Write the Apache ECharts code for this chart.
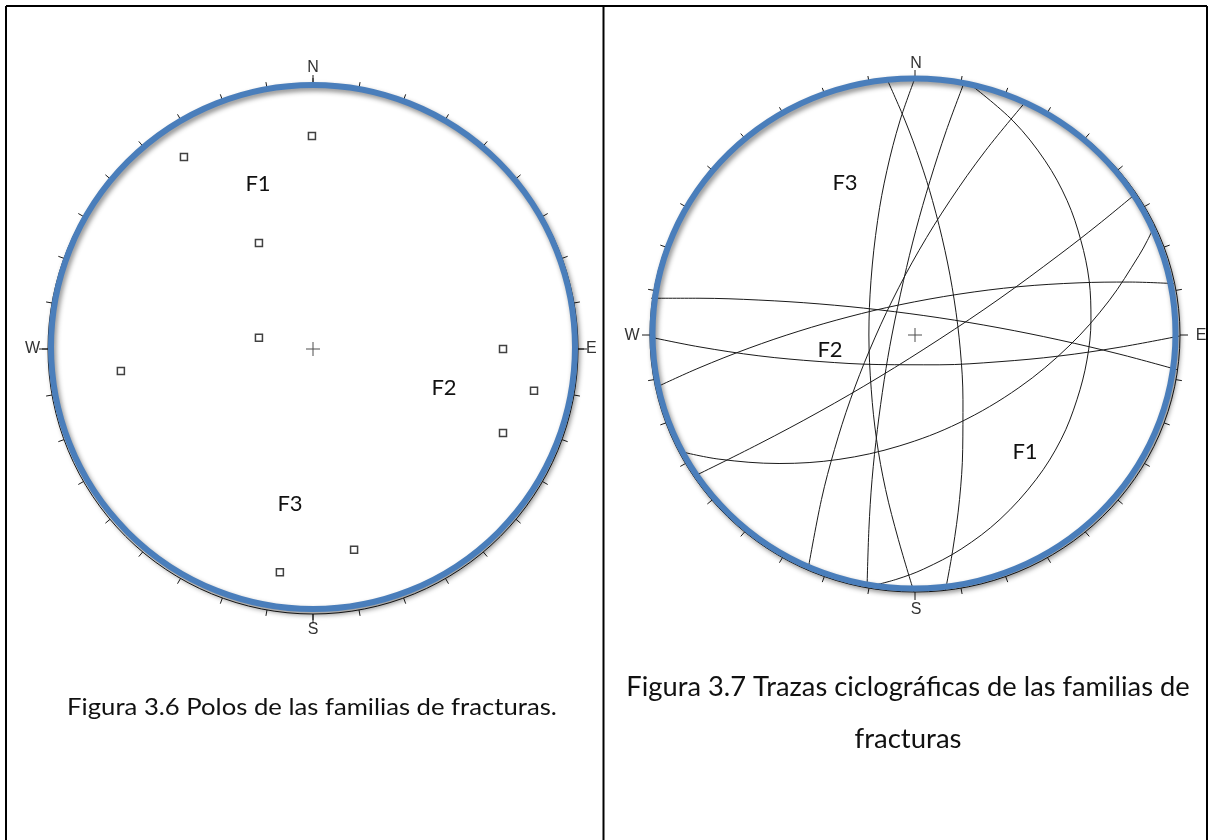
<!DOCTYPE html>
<html><head><meta charset="utf-8">
<script src="https://cdn.jsdelivr.net/npm/echarts@6/dist/echarts.min.js"></script>
<style>html,body{margin:0;padding:0;background:#fff}#c{width:1209px;height:840px}</style>
</head><body><div id="c"></div>
<script>
// ---------- DATA (stereonet coordinates: x = East, y = North, primitive radius = 1) ----------
// Figura 3.6 : poles of the fracture families
const poles = [
  [-0.004, 0.804], [-0.487, 0.725], [-0.204, 0.400], [-0.204, 0.042], [-0.725, -0.083],
  [0.717, 0.000], [0.834, -0.158], [0.717, -0.317], [0.155, -0.758], [-0.125, -0.842]
];
// Figura 3.7 : cyclographic traces (points read along each great circle)
const trace01 = [[-0.106,0.996],[-0.037,0.833],[0.019,0.678],[0.066,0.523],[0.113,0.329],[0.148,0.136],[0.171,-0.058],[0.181,-0.252],[0.180,-0.446],[0.168,-0.640],[0.143,-0.833],[0.115,-0.993]];
const trace02 = [[0,1.0],[-0.057,0.833],[-0.106,0.640],[-0.141,0.446],[-0.166,0.213],[-0.174,0],[-0.165,-0.213],[-0.145,-0.407],[-0.111,-0.601],[-0.063,-0.795],[-0.004,-1.0]];
const trace03 = [[0.185,0.981],[0.118,0.795],[0.057,0.601],[0.003,0.407],[-0.043,0.213],[-0.087,0],[-0.116,-0.174],[-0.142,-0.368],[-0.162,-0.562],[-0.174,-0.756],[-0.181,-0.985]];
const trace04 = [[0.417,0.907],[0.266,0.717],[0.132,0.523],[0.015,0.329],[-0.085,0.136],[-0.171,-0.058],[-0.244,-0.252],[-0.304,-0.446],[-0.353,-0.640],[-0.404,-0.915]];
const trace05 = [[0.211,0.973],[0.370,0.833],[0.491,0.678],[0.574,0.523],[0.626,0.368],[0.657,0.213],[0.664,0.058],[0.649,-0.097],[0.611,-0.252],[0.551,-0.407],[0.457,-0.562],[0.321,-0.717],[0.174,-0.833],[0.032,-0.911],[-0.068,-0.950],[-0.166,-0.977]];
const trace06 = [[-0.996,0.143],[-0.815,0.143],[-0.589,0.136],[-0.362,0.121],[-0.136,0.098],[0.091,0.067],[0.317,0.028],[0.543,-0.019],[0.770,-0.074],[0.989,-0.135]];
const trace07 = [[-1.0,-0.008],[-0.815,-0.046],[-0.589,-0.081],[-0.362,-0.103],[-0.136,-0.115],[0.091,-0.116],[0.317,-0.104],[0.543,-0.082],[0.770,-0.048],[0.998,-0.004]];
const trace08 = [[-0.974,-0.202],[-0.815,-0.128],[-0.626,-0.051],[-0.438,0.015],[-0.249,0.071],[-0.060,0.117],[0.166,0.159],[0.392,0.188],[0.619,0.203],[0.808,0.206],[0.977,0.200]];
const trace09 = [[-0.834,-0.550],[-0.589,-0.424],[-0.362,-0.299],[-0.136,-0.164],[0.091,-0.017],[0.317,0.140],[0.543,0.311],[0.694,0.432],[0.830,0.547]];
const trace10 = [[-0.891,-0.452],[-0.740,-0.483],[-0.513,-0.500],[-0.287,-0.484],[-0.060,-0.432],[0.166,-0.342],[0.392,-0.205],[0.581,-0.043],[0.732,0.133],[0.845,0.309],[0.877,0.368],[0.904,0.426]];
// azimuth ticks of the net (degrees) and cardinal labels
const tickAzimuths = [0,10,20,30,40,50,60,70,80,90,100,110,120,130,140,150,160,170,180,190,200,210,220,230,240,250,260,270,280,290,300,310,320,330,340,350];
const cardinal = {0:'N', 90:'E', 180:'S', 270:'W'};
const familyLabelsLeft = ['F1','F2','F3'];
const familyLabelsRight = ['F3','F2','F1'];
const caption1 = 'Figura 3.6 Polos de las familias de fracturas.';
const caption2a = 'Figura 3.7 Trazas ciclográficas de las familias de';
const caption2b = 'fracturas';
// ------------------------------------------------------------------------------------------

const traces = [trace01,trace02,trace03,trace04,trace05,trace06,trace07,trace08,trace09,trace10];
const chart = echarts.init(document.getElementById('c'), null, {renderer:'canvas'});

const labelFont = '"Liberation Sans", Arial, sans-serif';
const angleAxes = [
  {polarIndex:0, type:'value', min:0, max:360, interval:10, startAngle:90, clockwise:true,
   axisLine:{show:true, lineStyle:{color:'#1a1a1a', width:1}},
   axisTick:{show:true, length:6, lineStyle:{color:'#1a1a1a', width:1}},
   axisLabel:{show:false}, splitLine:{show:false}},
  {polarIndex:1, type:'value', min:0, max:360, interval:90, startAngle:90, clockwise:true,
   axisLine:{show:false},
   axisTick:{show:true, length:9, lineStyle:{color:'#1a1a1a', width:1}},
   axisLabel:{show:true, margin:8, color:'#333', fontSize:16, fontFamily:labelFont,
     formatter: v => cardinal[v] || ''},
   splitLine:{show:false}}
];

const plusSymbol = 'path://M-7,-0.5H7V0.5H-7Z M-0.5,-7H0.5V7H-0.5Z';
const txt = (x, y, t, size, sx) => ({type:'text', x:x, y:y, z:50, scaleX: sx || 1,
  style:{text:t, fill:'#111', font: size + 'px Lato, "Open Sans", sans-serif', textAlign:'center', textVerticalAlign:'middle'}});
const card = (x, y, t) => ({type:'text', x:x, y:y, z:50,
  style:{text:t, fill:'#333', font: '16px ' + labelFont, textAlign:'center', textVerticalAlign:'middle'}});

const option = {
  backgroundColor:'#ffffff',
  animation:false,
  polar:[
    {center:[313,349], radius:265},
    {center:[313,349], radius:265}
  ],
  angleAxis: angleAxes,
  radiusAxis:[0,1].map(i => ({polarIndex:i, type:'value', min:0, max:1, show:false})),
  grid:[
    {left:48, top:84, width:530, height:530},
    {left:650, top:78, width:530, height:514}
  ],
  xAxis:[
    {gridIndex:0, type:'value', min:-1, max:1, show:false},
    {gridIndex:1, type:'value', min:-1, max:1, show:false}
  ],
  yAxis:[
    {gridIndex:0, type:'value', min:-1, max:1, show:false},
    {gridIndex:1, type:'value', min:-1, max:1, show:false}
  ],
  series:[
    {type:'scatter', xAxisIndex:0, yAxisIndex:0, data:poles, symbol:'rect', symbolSize:7,
     itemStyle:{color:'#ffffff', borderColor:'#111', borderWidth:1.5}, z:5},
    {type:'scatter', xAxisIndex:0, yAxisIndex:0, data:[[0,0]], symbol:plusSymbol, symbolSize:14,
     itemStyle:{color:'#222'}, z:5},
    {type:'scatter', xAxisIndex:1, yAxisIndex:1, data:[[0,0]], symbol:plusSymbol, symbolSize:14,
     itemStyle:{color:'#222'}, z:5},
    // azimuth ticks on the (slightly elliptical) right net, placed through the grid's scales
    {type:'custom', xAxisIndex:1, yAxisIndex:1, data: tickAzimuths.map(a => [a, 0]), clip:false, z:4, silent:true,
     renderItem: (params, api) => {
       const az = api.value(0);
       const a = az * Math.PI / 180;
       const c = api.coord([0, 0]);
       const p = api.coord([Math.sin(a), Math.cos(a)]);
       const dx = p[0] - c[0], dy = p[1] - c[1], L = Math.hypot(dx, dy);
       const len = az % 90 === 0 ? 8 : 6;
       return {type:'line', shape:{x1:p[0], y1:p[1], x2:p[0] + dx / L * len, y2:p[1] + dy / L * len},
               style:{stroke:'#1a1a1a', lineWidth:1}};
     }},
    ...traces.map(t => ({type:'line', xAxisIndex:1, yAxisIndex:1, data:t, smooth:0.35, showSymbol:false,
      clip:false, lineStyle:{color:'#1a1a1a', width:1}, z:3}))
  ],
  graphic:[
    // table borders
    {type:'line', shape:{x1:6, y1:6, x2:1207, y2:6}, style:{stroke:'#000', lineWidth:2}, z:60},
    {type:'line', shape:{x1:6, y1:6, x2:6, y2:840}, style:{stroke:'#000', lineWidth:2}, z:60},
    {type:'line', shape:{x1:603.5, y1:6, x2:603.5, y2:840}, style:{stroke:'#000', lineWidth:2}, z:60},
    {type:'line', shape:{x1:1207, y1:6, x2:1207, y2:840}, style:{stroke:'#000', lineWidth:2}, z:60},
    // right net primitive (thin black)
    {type:'ellipse', shape:{cx:915, cy:335, rx:265, ry:257}, z:30,
     style:{fill:'none', stroke:'#1a1a1a', lineWidth:1}},
    // blue primitive rings
    {type:'circle', shape:{cx:313, cy:347, r:262}, z:40,
     style:{fill:'none', stroke:'#4a7ebb', lineWidth:6, shadowBlur:5, shadowColor:'rgba(0,0,0,0.45)', shadowOffsetX:2, shadowOffsetY:3}},
    {type:'ellipse', shape:{cx:914, cy:333.5, rx:261.5, ry:255}, z:40,
     style:{fill:'none', stroke:'#4a7ebb', lineWidth:6, shadowBlur:5, shadowColor:'rgba(0,0,0,0.45)', shadowOffsetX:2, shadowOffsetY:3}},
    // cardinal labels of the right net
    card(916,64,cardinal[0]), card(1201,336,cardinal[90]), card(916,610,cardinal[180]), card(632,336,cardinal[270]),
    // family labels
    txt(258,184,familyLabelsLeft[0],22), txt(444,388,familyLabelsLeft[1],22), txt(290,504,familyLabelsLeft[2],22),
    txt(845,183,familyLabelsRight[0],22), txt(830,350,familyLabelsRight[1],22), txt(1025,452,familyLabelsRight[2],22),
    // captions
    txt(312,707,caption1,24,1.07),
    txt(908,688,caption2a,26,1.05),
    txt(908,740,caption2b,26,1.06)
  ]
};
chart.setOption(option);
</script></body></html>
